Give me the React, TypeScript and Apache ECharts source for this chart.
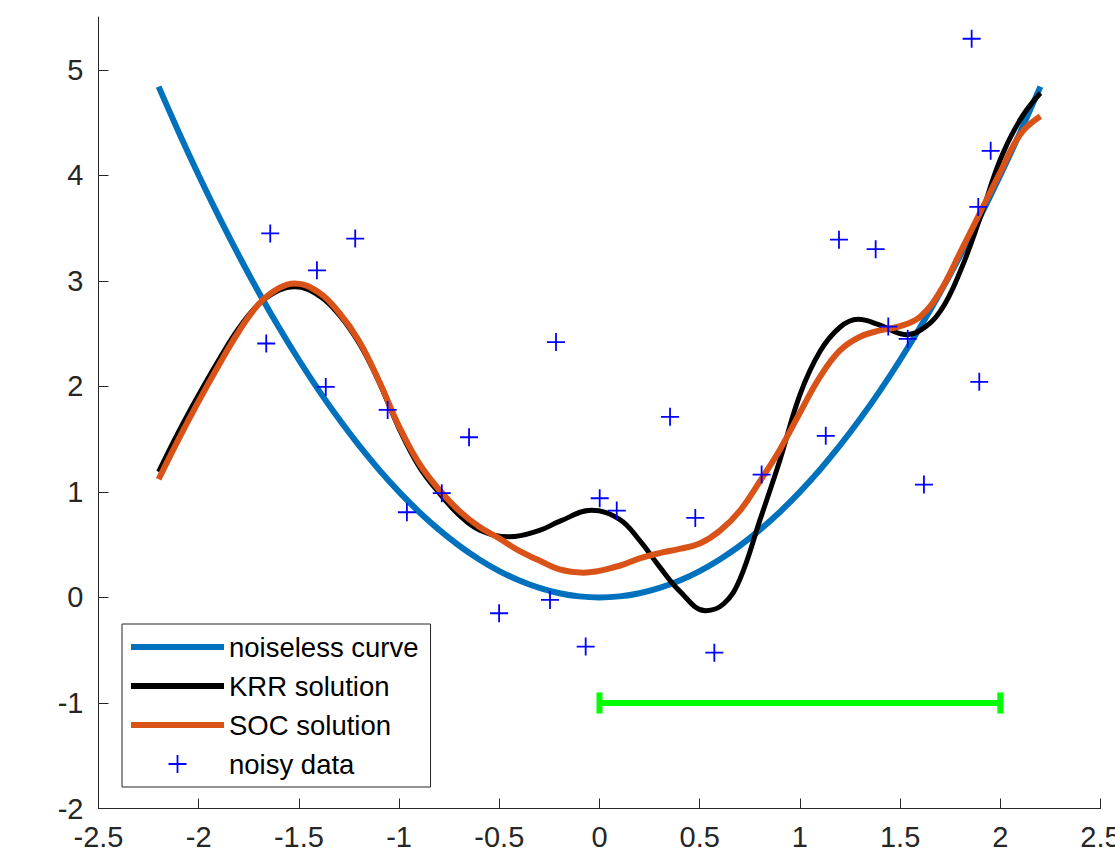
import React, { useEffect, useRef } from "react";
import * as echarts from "echarts";

// Noiseless curve samples
const XS = [
  -2.2, -2.1, -2.0, -1.9, -1.8, -1.7, -1.6, -1.5, -1.4, -1.3, -1.2, -1.1, -1.0, -0.9, -0.8, -0.7, -0.6, -0.5, -0.4, -0.3, -0.2, -0.1,
  0.0,
  0.1, 0.2, 0.3, 0.4, 0.5, 0.6, 0.7, 0.8, 0.9, 1.0, 1.1, 1.2, 1.3, 1.4, 1.5, 1.6, 1.7, 1.8, 1.9, 2.0, 2.1, 2.2,
];
const NOISELESS = [
  4.84, 4.41, 4.0, 3.61, 3.24, 2.89, 2.56, 2.25, 1.96, 1.69, 1.44, 1.21, 1.0, 0.81, 0.64, 0.49, 0.36, 0.25, 0.16, 0.09, 0.04, 0.01,
  0.0,
  0.01, 0.04, 0.09, 0.16, 0.25, 0.36, 0.49, 0.64, 0.81, 1.0, 1.21, 1.44, 1.69, 1.96, 2.25, 2.56, 2.89, 3.24, 3.61, 4.0, 4.41, 4.84,
];

// KRR solution samples
const KRR_X = [
  -2.2, -2.1, -2.0, -1.9, -1.8, -1.7, -1.6, -1.52, -1.4, -1.3, -1.2, -1.1, -1.0, -0.9, -0.8, -0.7, -0.6, -0.45, -0.3, -0.2, -0.04,
  0.1, 0.2, 0.3, 0.4, 0.53, 0.62, 0.7, 0.8, 0.9, 1.0, 1.1, 1.2, 1.29, 1.4, 1.53, 1.6, 1.7, 1.8, 1.9, 2.0, 2.1, 2.2,
];
const KRR = [
  1.19, 1.57, 1.92, 2.25, 2.55, 2.78, 2.91, 2.945, 2.86, 2.68, 2.41, 2.04, 1.6, 1.24, 0.99, 0.78, 0.64, 0.575, 0.635, 0.72, 0.825,
  0.74, 0.54, 0.29, 0.06, -0.125, -0.06, 0.17, 0.73, 1.3, 1.92, 2.33, 2.56, 2.635, 2.58, 2.49, 2.53, 2.71, 3.09, 3.6, 4.15, 4.53, 4.78,
];

// SOC solution samples
const SOC_X = [
  -2.2, -2.1, -2.0, -1.9, -1.8, -1.7, -1.6, -1.52, -1.4, -1.3, -1.2, -1.1, -1.0, -0.9, -0.8, -0.7, -0.6, -0.5, -0.4, -0.3, -0.2,
  -0.08, 0.1, 0.2, 0.3, 0.4, 0.5, 0.6, 0.7, 0.8, 0.9, 1.0, 1.1, 1.2, 1.3, 1.4, 1.5, 1.6, 1.7, 1.8, 1.9, 2.0, 2.1, 2.2,
];
const SOC = [
  1.12, 1.5, 1.86, 2.2, 2.52, 2.78, 2.93, 2.975, 2.89, 2.7, 2.43, 2.05, 1.62, 1.27, 1.02, 0.82, 0.67, 0.56, 0.44, 0.35, 0.265,
  0.235, 0.3, 0.37, 0.42, 0.46, 0.51, 0.63, 0.82, 1.1, 1.4, 1.75, 2.09, 2.34, 2.47, 2.53, 2.57, 2.66, 2.9, 3.27, 3.65, 4.03, 4.39, 4.56,
];

const NOISY_X = [
  -1.643, -1.663, -1.41, -1.366, -1.219, -1.057, -0.961, -0.787, -0.651, -0.501, -0.247, -0.217, -0.069, 0.001, 0.086, 0.352,
  0.478, 0.573, 0.809, 1.129, 1.195, 1.378, 1.441, 1.538, 1.619, 1.857, 1.895, 1.89, 1.952,
];
const NOISY_Y = [
  3.449, 2.406, 3.1, 1.995, 3.4, 1.777, 0.807, 0.988, 1.518, -0.15, -0.024, 2.42, -0.466, 0.94, 0.823, 1.711, 0.753, -0.523,
  1.164, 1.531, 3.39, 3.3, 2.567, 2.45, 1.069, 5.294, 2.043, 3.7, 4.232,
];

// Green scale bar
const BAR_X = [0, 2];
const BAR_Y = -1;
const CAP_HALF = 0.1;

const X_TICKS = [-2.5, -2, -1.5, -1, -0.5, 0, 0.5, 1, 1.5, 2, 2.5];
const Y_TICKS = [-2, -1, 0, 1, 2, 3, 4, 5];

const PLUS = "path://M8.1,0H9.9V18H8.1Z M0,8.1H18V9.9H0Z";
const LINE_ICON = "path://M0,0H92V6H0Z";

export default function App() {
  const ref = useRef<HTMLDivElement>(null);
  useEffect(() => {
    document.body.style.margin = "0";
    document.documentElement.style.overflow = "hidden";
    document.body.style.overflow = "hidden";
    const chart = echarts.init(ref.current!, undefined, { renderer: "svg" });
    const font = "'Liberation Sans', Arial, Helvetica, sans-serif";
    const axisColor = "#262626";
    const zip = (xs: number[], ys: number[]) => xs.map((x, i) => [x, ys[i]]);
    chart.setOption({
      animation: false,
      backgroundColor: "#ffffff",
      grid: {
        left: 98.5,
        right: 14.5,
        top: 17,
        bottom: 56.5,
        containLabel: false,
        outerBoundsMode: "none",
      },
      xAxis: {
        type: "value",
        min: -2.5,
        max: 2.5,
        interval: 0.5,
        axisLine: { show: true, onZero: false, lineStyle: { color: axisColor, width: 1 } },
        axisTick: { show: true, inside: true, length: 10, lineStyle: { color: axisColor }, customValues: X_TICKS },
        axisLabel: {
          color: axisColor,
          fontSize: 29,
          fontFamily: font,
          margin: 14,
          customValues: X_TICKS,
          formatter: (v: number) => String(v),
        },
        splitLine: { show: false },
      },
      yAxis: {
        type: "value",
        min: -2,
        max: 5.5,
        interval: 1,
        axisLine: { show: true, onZero: false, lineStyle: { color: axisColor, width: 1 } },
        axisTick: { show: true, inside: true, length: 10, lineStyle: { color: axisColor }, customValues: Y_TICKS },
        axisLabel: {
          color: axisColor,
          fontSize: 29,
          fontFamily: font,
          margin: 15,
          customValues: Y_TICKS,
          formatter: (v: number) => String(v),
        },
        splitLine: { show: false },
      },
      legend: {
        orient: "vertical",
        left: 122,
        top: 624,
        padding: [9, 12, 9, 9],
        itemWidth: 93,
        itemHeight: 18,
        itemGap: 11,
        backgroundColor: "#ffffff",
        borderColor: axisColor,
        borderWidth: 1,
        borderRadius: 0,
        textStyle: { fontSize: 27.5, fontFamily: font, color: "#000000" },
        data: [
          { name: "noiseless curve", icon: LINE_ICON },
          { name: "KRR solution", icon: LINE_ICON },
          { name: "SOC solution", icon: LINE_ICON },
          { name: "noisy data", icon: PLUS },
        ],
      },
      series: [
        {
          name: "noiseless curve",
          type: "line",
          data: zip(XS, NOISELESS),
          smooth: 0.3,
          symbol: "none",
          lineStyle: { color: "#0072BD", width: 6 },
          itemStyle: { color: "#0072BD" },
          z: 2,
        },
        {
          name: "KRR solution",
          type: "line",
          data: zip(KRR_X, KRR),
          smooth: 0.4,
          symbol: "none",
          lineStyle: { color: "#000000", width: 5 },
          itemStyle: { color: "#000000" },
          z: 3,
        },
        {
          name: "SOC solution",
          type: "line",
          data: zip(SOC_X, SOC),
          smooth: 0.4,
          symbol: "none",
          lineStyle: { color: "#D95319", width: 6 },
          itemStyle: { color: "#D95319" },
          z: 4,
        },
        {
          name: "noisy data",
          type: "scatter",
          data: zip(NOISY_X, NOISY_Y),
          symbol: PLUS,
          symbolSize: 18,
          itemStyle: { color: "#0000FF", opacity: 1 },
          z: 5,
        },
        {
          name: "bar",
          type: "line",
          data: BAR_X.map((x) => [x, BAR_Y]),
          symbol: "none",
          lineStyle: { color: "#00FF00", width: 6 },
          z: 6,
        },
        {
          name: "capL",
          type: "line",
          data: [
            [BAR_X[0], BAR_Y - CAP_HALF],
            [BAR_X[0], BAR_Y + CAP_HALF],
          ],
          symbol: "none",
          lineStyle: { color: "#00FF00", width: 6 },
          z: 6,
        },
        {
          name: "capR",
          type: "line",
          data: [
            [BAR_X[1], BAR_Y - CAP_HALF],
            [BAR_X[1], BAR_Y + CAP_HALF],
          ],
          symbol: "none",
          lineStyle: { color: "#00FF00", width: 6 },
          z: 6,
        },
      ],
    });
    return () => chart.dispose();
  }, []);
  return (
    <div
      ref={ref}
      style={{ position: "fixed", left: 0, top: 0, width: 1115, height: 865 }}
    />
  );
}
